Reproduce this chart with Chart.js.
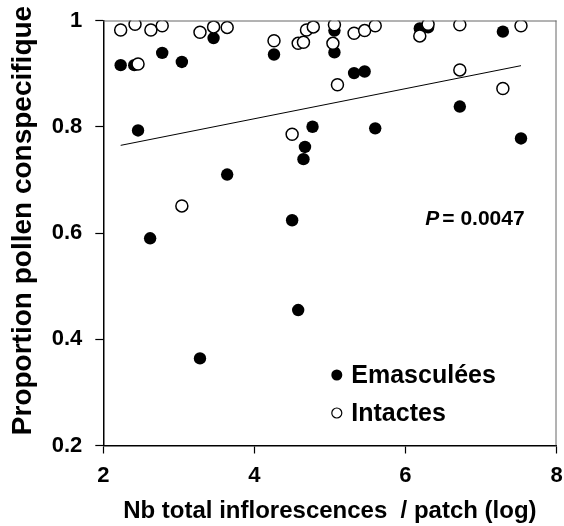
<!DOCTYPE html>
<html>
<head>
<meta charset="utf-8">
<script src="https://cdn.jsdelivr.net/npm/chart.js@4"></script>
<style>
    html, body { margin: 0; padding: 0; background: #fff; }
    #wrap { width: 564px; height: 526px; }
</style>
</head>
<body>
<div id="wrap"><canvas id="chart" width="564" height="526"></canvas></div>
<script>
// Values
const emascX = [2.23, 2.41, 2.46, 2.62, 2.78, 3.04, 3.28, 3.46, 3.64, 4.26, 4.50, 4.58, 4.65, 4.67, 4.77, 5.06, 5.06, 5.32, 5.46, 5.60, 6.19, 6.30, 6.72, 7.29, 7.53];
const emascY = [0.916, 0.916, 0.793, 0.590, 0.939, 0.922, 0.364, 0.967, 0.710, 0.936, 0.624, 0.455, 0.739, 0.762, 0.800, 0.981, 0.940, 0.901, 0.904, 0.797, 0.985, 0.987, 0.838, 0.979, 0.778];

const intactX = [2.23, 2.42, 2.46, 2.63, 2.78, 3.04, 3.28, 3.46, 3.64, 4.26, 4.50, 4.58, 4.65, 4.69, 4.78, 5.04, 5.06, 5.10, 5.32, 5.46, 5.60, 6.19, 6.30, 6.72, 6.72, 7.29, 7.53];
const intactY = [0.982, 0.993, 0.918, 0.982, 0.990, 0.651, 0.978, 0.988, 0.987, 0.962, 0.786, 0.957, 0.959, 0.982, 0.988, 0.957, 0.992, 0.879, 0.976, 0.981, 0.990, 0.971, 0.993, 0.992, 0.907, 0.872, 0.990];

const trendX = [2.23, 7.53];
const trendY = [0.765, 0.915];

const xTicks = [2, 4, 6, 8];
const yTicks = [0.2, 0.4, 0.6, 0.8, 1];
const yTickLabels = ['0.2', '0.4', '0.6', '0.8', '1'];

const seriesNames = ['Emasculées', 'Intactes'];
const yTitle = 'Proportion pollen conspecifique';
const xTitle = 'Nb total inflorescences  / patch (log)';
const pText = '= 0.0047';

const FONT = 'Arial, "Liberation Sans", sans-serif';

function toPoints(xs, ys) {
    return xs.map((x, i) => ({ x: x, y: ys[i] }));
}

// let the layout padding alone decide where the plot area sits
function noLabelPadding(scale) {
    scale.paddingTop = 0;
    scale.paddingBottom = 0;
    scale.paddingLeft = 0;
    scale.paddingRight = 0;
}

// box on top and right, y title, legend and P value
const extrasPlugin = {
    id: 'extras',
    afterDraw(chart) {
        const ctx = chart.ctx;
        const a = chart.chartArea;
        ctx.save();
        ctx.strokeStyle = '#666';
        ctx.lineWidth = 1;
        ctx.beginPath();
        ctx.moveTo(a.left, a.top + 0.5);
        ctx.lineTo(a.right, a.top + 0.5);
        ctx.moveTo(a.right - 0.5, a.top);
        ctx.lineTo(a.right - 0.5, a.bottom);
        ctx.stroke();

        // y axis title (sits a bit above the plot centre in the original)
        ctx.save();
        ctx.translate(23.5, a.top + 200);
        ctx.rotate(-Math.PI / 2);
        ctx.fillStyle = '#000';
        ctx.font = 'bold 28px ' + FONT;
        ctx.textAlign = 'center';
        ctx.textBaseline = 'middle';
        ctx.fillText(yTitle, 0, 0);
        ctx.restore();

        // P value
        ctx.fillStyle = '#000';
        ctx.textBaseline = 'alphabetic';
        ctx.textAlign = 'left';
        const px = a.left + 322;
        const py = a.top + 204.5;
        ctx.font = 'italic bold 21px ' + FONT;
        ctx.fillText('P', px, py);
        const pw = ctx.measureText('P').width;
        ctx.font = 'bold 21px ' + FONT;
        ctx.fillText(pText, px + pw + 3, py);

        // legend
        const lx = a.left + 233.5;
        const rows = [a.bottom - 70.5, a.bottom - 32.5];
        ctx.font = 'bold 25px ' + FONT;
        ctx.textBaseline = 'middle';
        rows.forEach((ry, i) => {
            ctx.beginPath();
            ctx.arc(lx, ry, i === 0 ? 5.5 : 5, 0, Math.PI * 2);
            if (i === 0) {
                ctx.fillStyle = '#000';
                ctx.fill();
            } else {
                ctx.fillStyle = '#fff';
                ctx.fill();
                ctx.lineWidth = 1.2;
                ctx.strokeStyle = '#000';
                ctx.stroke();
            }
            ctx.fillStyle = '#000';
            ctx.fillText(seriesNames[i], lx + 14.5, ry + 1.5);
        });
        ctx.restore();
    }
};

new Chart(document.getElementById('chart'), {
    type: 'scatter',
    data: {
        datasets: [
            {
                label: seriesNames[1],
                data: toPoints(intactX, intactY),
                pointRadius: 6,
                pointBackgroundColor: '#fff',
                pointBorderColor: '#000',
                pointBorderWidth: 1.5
            },
            {
                label: seriesNames[0],
                data: toPoints(emascX, emascY),
                pointRadius: 6.2,
                pointBackgroundColor: '#000',
                pointBorderColor: '#000',
                pointBorderWidth: 0
            },
            {
                type: 'line',
                label: 'trend',
                data: toPoints(trendX, trendY),
                borderColor: '#000',
                borderWidth: 1,
                pointRadius: 0,
                fill: false
            }
        ]
    },
    options: {
        responsive: false,
        animation: false,
        layout: { padding: { top: 20.5, right: 7, left: 0, bottom: 0 } },
        plugins: {
            legend: { display: false },
            tooltip: { enabled: false }
        },
        scales: {
            x: {
                type: 'linear',
                min: 2,
                max: 8,
                afterBuildTicks: (scale) => { scale.ticks = xTicks.map(v => ({ value: v })); },
                afterFit: (scale) => { scale.height = 80.5; noLabelPadding(scale); },
                grid: { display: true, drawOnChartArea: false, drawTicks: true, tickLength: 8, tickColor: '#000', tickWidth: 1.2 },
                border: { color: '#000', width: 1.5 },
                ticks: {
                    color: '#000',
                    padding: 9,
                    font: { family: FONT, size: 22, weight: 'bold' },
                    callback: (v) => String(v)
                },
                title: {
                    display: true,
                    text: xTitle,
                    color: '#000',
                    padding: { top: 0, bottom: 0 },
                    font: { family: FONT, size: 24, weight: 'bold' }
                }
            },
            y: {
                type: 'linear',
                min: 0.2,
                max: 1,
                afterBuildTicks: (scale) => { scale.ticks = yTicks.map(v => ({ value: v })); },
                afterFit: (scale) => { scale.width = 103.3; noLabelPadding(scale); },
                grid: { display: true, drawOnChartArea: false, drawTicks: true, tickLength: 8, tickColor: '#000', tickWidth: 1.2 },
                border: { color: '#000', width: 1.5 },
                ticks: {
                    color: '#000',
                    padding: 13,
                    font: { family: FONT, size: 22, weight: 'bold' },
                    callback: (v) => {
                        const i = yTicks.findIndex(t => Math.abs(t - v) < 1e-9);
                        return i >= 0 ? yTickLabels[i] : '';
                    }
                },
                title: { display: false }
            }
        }
    },
    plugins: [extrasPlugin]
});
</script>
</body>
</html>
